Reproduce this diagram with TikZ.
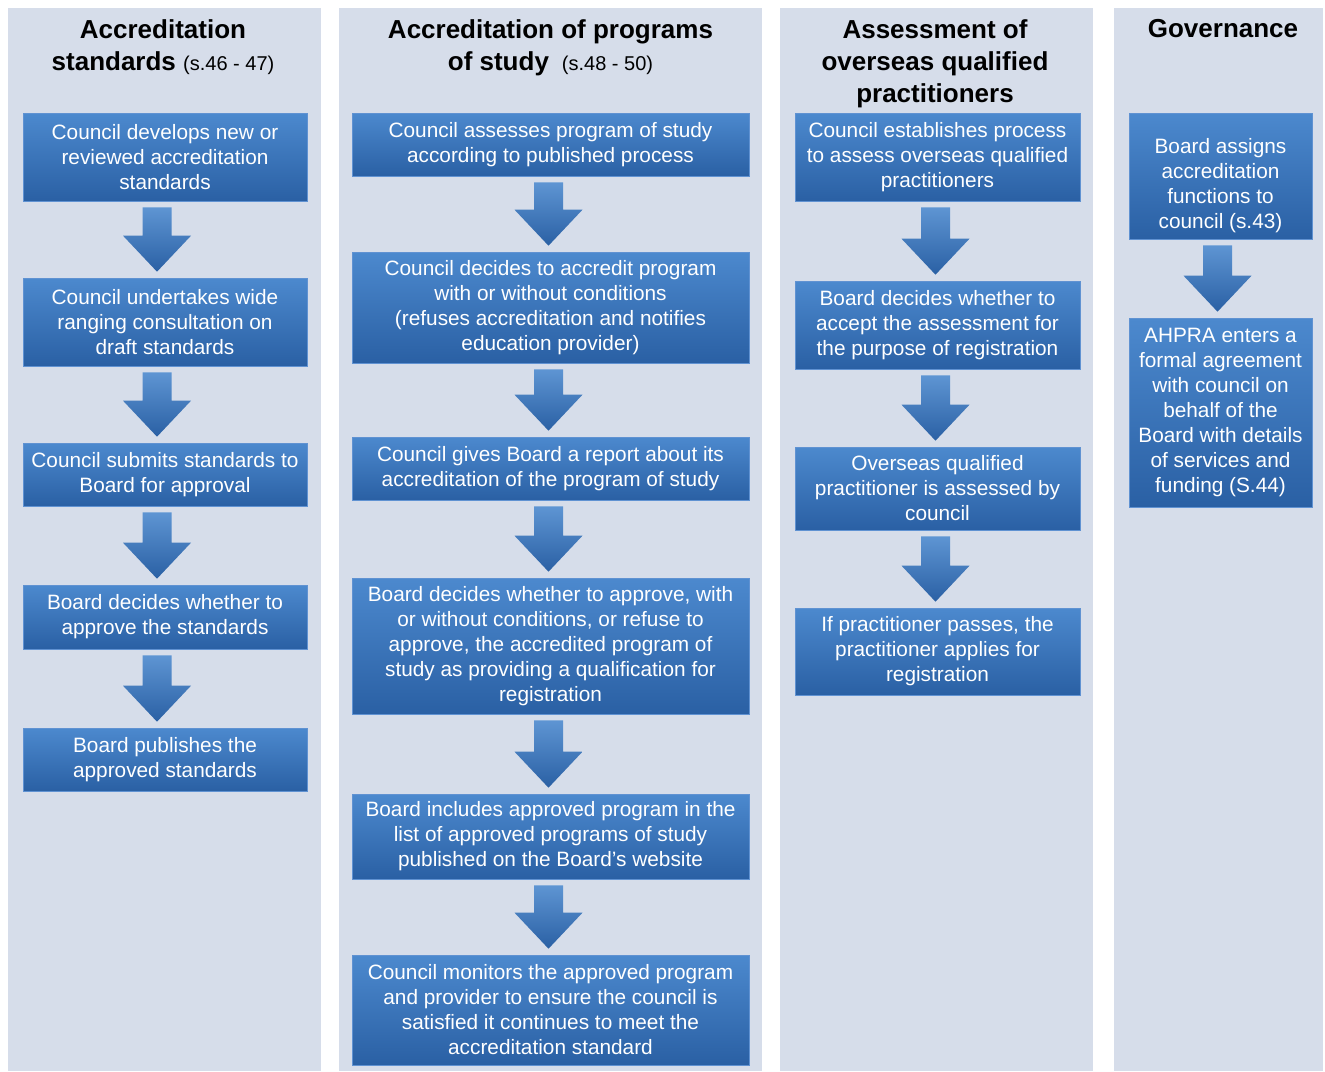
\documentclass[tikz,border=0pt]{standalone}
\usepackage{fontspec}
\setmainfont{Liberation Sans}
\usetikzlibrary{calc}

\definecolor{colbg}{RGB}{214,221,234}
\definecolor{boxtop}{RGB}{76,137,206}
\definecolor{boxbot}{RGB}{42,96,164}
\definecolor{boxline}{RGB}{96,146,210}

\tikzset{
  column/.style={fill=colbg},
  heading/.style={anchor=north,inner sep=0pt,align=center,
    font=\fontsize{26}{32}\selectfont\bfseries},
  stepbox/.style={draw=boxline,line width=0.6pt,top color=boxtop,bottom color=boxbot,
    text=white,align=center,inner sep=0pt,font=\fontsize{20.8}{25}\selectfont},
  arrowfill/.style={top color=boxtop!90!white,bottom color=boxbot}
}

% block arrow from the foot of one box to the head of the next
\newcommand{\downarr}[3][0]{%
  \shade[arrowfill] let \p1=($(#2.south)+(#1,0)$), \p2=(#3.north) in
    (\x1-14.5pt,\y1-6pt) -- (\x1+14.5pt,\y1-6pt) -- (\x1+14.5pt,\y2+42pt)
    -- (\x1+34pt,\y2+42pt) -- (\x1,\y2+6pt) -- (\x1-34pt,\y2+42pt)
    -- (\x1-14.5pt,\y2+42pt) -- cycle;}

\begin{document}
\begin{tikzpicture}[x=1pt,y=-1pt]
  \useasboundingbox (0,0) rectangle (1325,1071);
  \fill[column] (8,8) rectangle (321,1071);
  \fill[column] (339,8) rectangle (762,1071);
  \fill[column] (780,8) rectangle (1093,1071);
  \fill[column] (1114,8) rectangle (1323,1071);

  \node[heading] (h1) at (163,19) {Accreditation\\standards {\fontsize{20}{32}\selectfont\mdseries (s.46 - 47)}};
  \node[heading] (h2) at (550.5,19) {Accreditation of programs\\of study\enspace{\fontsize{20}{32}\selectfont\mdseries (s.48 - 50)}};
  \node[heading] (h3) at (935,19) {Assessment of\\overseas qualified\\practitioners};
  \node[heading] (h4) at (1223,19) {Governance};

  % accreditation standards
  \node[stepbox,minimum width=284,minimum height=88] (as1) at (165,157) {Council develops new or\\reviewed accreditation\\standards};
  \node[stepbox,minimum width=284,minimum height=88] (as2) at (165,322) {Council undertakes wide\\ranging consultation on\\draft standards};
  \node[stepbox,minimum width=284,minimum height=63] (as3) at (165,474.5) {Council submits standards to\\Board for approval};
  \node[stepbox,minimum width=284,minimum height=64] (as4) at (165,617) {Board decides whether to\\approve the standards};
  \node[stepbox,minimum width=284,minimum height=63] (as5) at (165,759.5) {Board publishes the\\approved standards};

  % programs of study
  \node[stepbox,minimum width=397,minimum height=63] (ps1) at (550.5,144.5) {Council assesses program of study\\according to published process};
  \node[stepbox,minimum width=397,minimum height=111] (ps2) at (550.5,307.5) {Council decides to accredit program\\with or without conditions\\(refuses accreditation and notifies\\education provider)};
  \node[stepbox,minimum width=397,minimum height=63] (ps3) at (550.5,468.5) {Council gives Board a report about its\\accreditation of the program of study};
  \node[stepbox,minimum width=397,minimum height=136] (ps4) at (550.5,646) {Board decides whether to approve, with\\or without conditions, or refuse to\\approve, the accredited program of\\study as providing a qualification for\\registration};
  \node[stepbox,minimum width=397,minimum height=85] (ps5) at (550.5,836.5) {Board includes approved program in the\\list of approved programs of study\\published on the Board's website};
  \node[stepbox,minimum width=397,minimum height=110] (ps6) at (550.5,1010) {Council monitors the approved program\\and provider to ensure the council is\\satisfied it continues to meet the\\accreditation standard};

  % overseas practitioners
  \node[stepbox,minimum width=285,minimum height=88] (op1) at (937.5,157) {Council establishes process\\to assess overseas qualified\\practitioners};
  \node[stepbox,minimum width=285,minimum height=88] (op2) at (937.5,325) {Board decides whether to\\accept the assessment for\\the purpose of registration};
  \node[stepbox,minimum width=285,minimum height=83] (op3) at (937.5,488.5) {Overseas qualified\\practitioner is assessed by\\council};
  \node[stepbox,minimum width=285,minimum height=87] (op4) at (937.5,651.5) {If practitioner passes, the\\practitioner applies for\\registration};

  % governance
  \node[stepbox,minimum width=183,minimum height=126] (gv1) at (1220.5,176) {\rule{0pt}{35pt}Board assigns\\accreditation\\functions to\\council (s.43)};
  \node[stepbox,minimum width=183,minimum height=189] (gv2) at (1220.5,412.5) {AHPRA enters a\\formal agreement\\with council on\\behalf of the\\Board with details\\of services and\\funding (S.44)};

  \foreach \a/\b in {as1/as2,as2/as3,as3/as4,as4/as5}
    \downarr[-8]{\a}{\b};
  \foreach \a/\b in {ps1/ps2,ps2/ps3,ps3/ps4,ps4/ps5,ps5/ps6,op1/op2,op2/op3,op3/op4}
    \downarr[-2]{\a}{\b};
  \downarr[-3]{gv1}{gv2};
\end{tikzpicture}
\end{document}
